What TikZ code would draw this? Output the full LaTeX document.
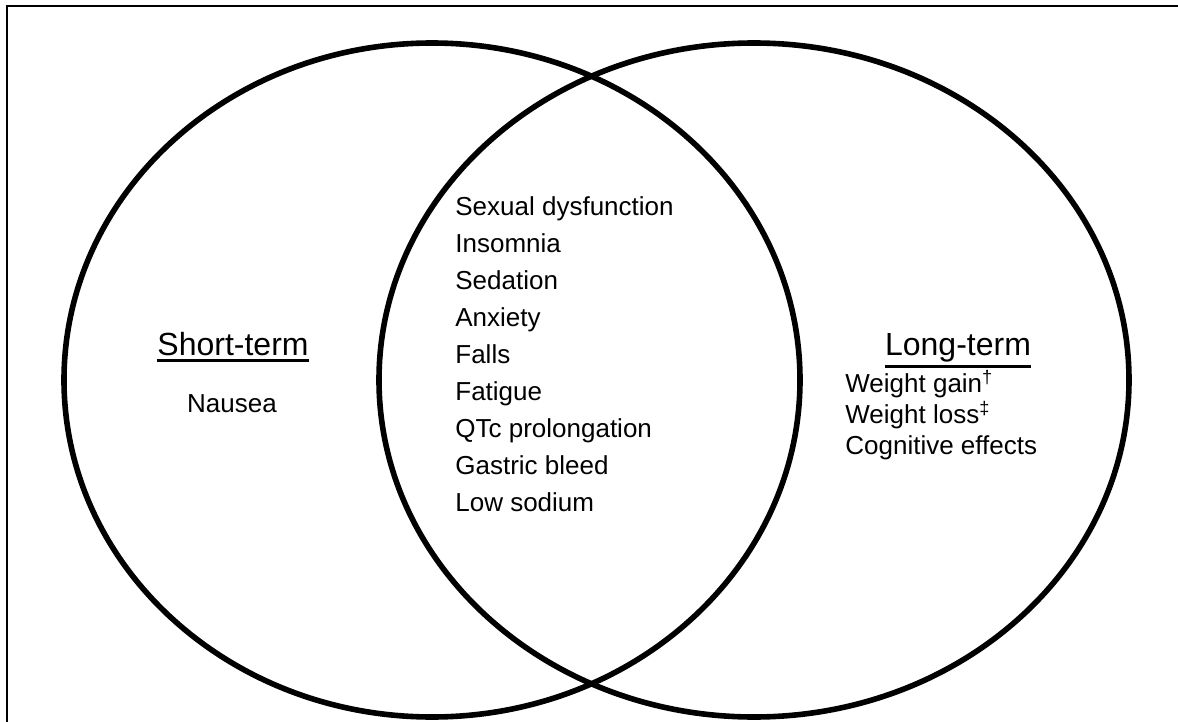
\documentclass[tikz,border=0pt]{standalone}
\usepackage{fontspec}
\setmainfont{Liberation Sans}
\usetikzlibrary{positioning}
\newcommand\ulhead[1]{\vtop{\hbox{#1}\kern1.8pt\hrule height1.5pt}}

\begin{document}
\begin{tikzpicture}[
    x=0.5pt, y=-0.5pt,
    ring/.style={draw=black, line width=2.8pt},
    heading/.style={font=\fontsize{16}{19}\selectfont, inner sep=0pt, anchor=base},
    item/.style={font=\fontsize{13}{16}\selectfont, inner sep=0pt, anchor=base west}
]
    \useasboundingbox (0,0) rectangle (1178,722);
    \clip (0,0) rectangle (1178,722);

    % Frame
    \draw[line width=1pt] (7,6) rectangle (1220,760);

    % Circles
    \coordinate (shortc) at (432,380);
    \coordinate (longc) at (754,380);
    \draw[ring] (shortc) ellipse [x radius=368, y radius=337];
    \draw[ring] (longc) ellipse [x radius=375, y radius=337];

    % Short-term
    \node[heading] (shorthd) at (233,355) {\ulhead{Short-term}};
    \node[item, anchor=base] (nausea) at (232,412) {Nausea};

    % Both
    \foreach \txt [count=\i] in {Sexual dysfunction, Insomnia, Sedation, Anxiety,
        Falls, Fatigue, QTc prolongation, Gastric bleed, Low sodium}
        \node[item] (both\i) at (455,{215+37*(\i-1)}) {\txt};

    % Long-term
    \node[heading] (longhd) at (958,355) {\ulhead{Long-term}};
    \foreach \txt [count=\i] in {Weight gain\textsuperscript{\textdagger},
        Weight loss\textsuperscript{\textdaggerdbl}, Cognitive effects}
        \node[item] (long\i) at (845,{392+31*(\i-1)}) {\txt};
\end{tikzpicture}
\end{document}
